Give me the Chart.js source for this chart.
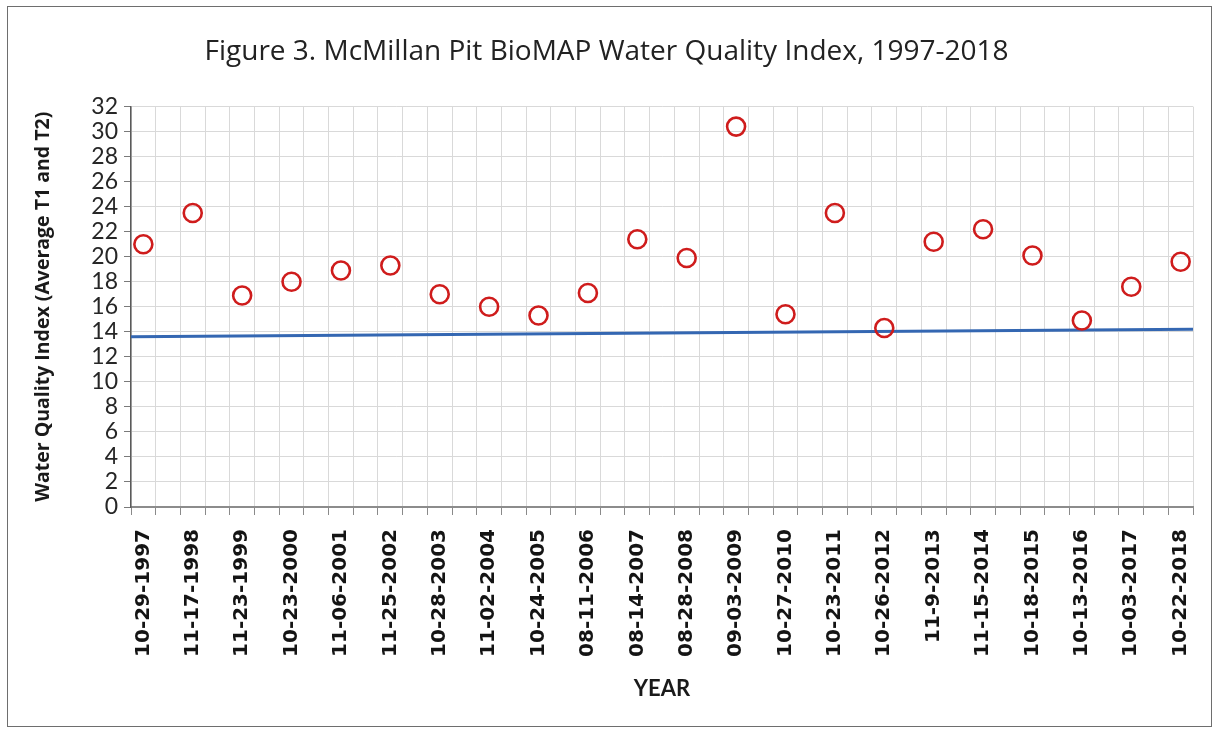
<!DOCTYPE html><html lang="en">
<head>
  <meta charset="UTF-8" />
  <title>McMillan Pit BioMAP Water Quality Index</title>
  <script src="https://cdn.jsdelivr.net/npm/chart.js"></script>
  <style>
    body { margin: 0; background: #fff; }
    #wrap { position: relative; width: 1217px; height: 730px; }
    #frame { position: absolute; left: 7px; top: 6px; width: 1203px; height: 719px; border: 1.5px solid #6e6e6e; pointer-events: none; }
  </style>
</head>
<body>
  <div id="wrap">
    <canvas id="wqiChart" width="1217" height="730"></canvas>
    <div id="frame"></div>
  </div>
  <script>
const categories = ["10-29-1997", "11-17-1998", "11-23-1999", "10-23-2000", "11-06-2001", "11-25-2002",
  "10-28-2003", "11-02-2004", "10-24-2005", "08-11-2006", "08-14-2007", "08-28-2008", "09-03-2009",
  "10-27-2010", "10-23-2011", "10-26-2012", "11-9-2013", "11-15-2014", "10-18-2015", "10-13-2016",
  "10-03-2017", "10-22-2018"];
const wqiValues = [21.0, 23.5, 16.9, 18.0, 18.9, 19.3, 17.0, 16.0, 15.3, 17.1, 21.4,
  19.9, 30.4, 15.4, 23.5, 14.3, 21.2, 22.2, 20.1, 14.9, 17.6, 19.6];
const lineEnds = [13.6, 14.2];   // blue reference line, left end / right end
const yTicks = [0, 32, 2];       // min, max, step

// each date sits between two grid columns: 2 columns per sample, 43 columns in all
const cols = categories.length * 2 - 1;
const points = wqiValues.map((v, i) => ({ x: i * 2 + 0.5, y: v }));
const refLine = [{ x: 0, y: lineEnds[0] }, { x: cols, y: lineEnds[1] }];

const isWhole = v => Math.abs(v - Math.round(v)) < 1e-6;

new Chart(document.getElementById("wqiChart"), {
  type: "scatter",
  data: {
    datasets: [
      {
        label: "WQI",
        data: points,
        pointRadius: 9,
        pointHoverRadius: 9,
        pointBorderWidth: 2.6,
        pointBorderColor: "#cf1c1c",
        pointBackgroundColor: "rgba(255,255,255,0)"
      },
      {
        type: "line",
        label: "Reference",
        data: refLine,
        borderColor: "#3467b2",
        borderWidth: 3,
        pointRadius: 0,
        fill: false
      }
    ]
  },
  options: {
    responsive: false,
    animation: false,
    layout: { padding: { left: 20, right: 24, top: 10, bottom: 10 } },
    plugins: {
      legend: { display: false },
      tooltip: { enabled: false },
      title: {
        display: true,
        text: "Figure 3. McMillan Pit BioMAP Water Quality Index, 1997-2018",
        color: "#222",
        font: { family: "Open Sans", size: 28, weight: "normal" },
        padding: { top: 25, bottom: 38 }
      }
    },
    scales: {
      x: {
        type: "linear",
        min: 0,
        max: cols,
        afterFit: s => { s.height = 213; s.paddingRight = 0; },
        ticks: {
          stepSize: 0.5,
          autoSkip: false,
          minRotation: 90,
          maxRotation: 90,
          padding: 14,
          color: "#141414",
          font: { family: "DejaVu Sans", size: 20, weight: "bold" },
          callback: v => {
            const i = (v - 0.5) / 2;
            return isWhole(i) && categories[Math.round(i)] ? categories[Math.round(i)] : "";
          }
        },
        grid: {
          color: c => isWhole(c.tick.value) ? "#d9d9d9" : "rgba(0,0,0,0)",
          tickColor: c => isWhole(c.tick.value) ? "#8a8a8a" : "rgba(0,0,0,0)",
          tickLength: 8
        },
        border: { color: "#8c8c8c", width: 2 },
        title: {
          display: true,
          text: "YEAR",
          color: "#1a1a1a",
          font: { family: "Lato", size: 22, weight: "bold" },
          padding: { top: 0, bottom: 18 }
        }
      },
      y: {
        min: yTicks[0],
        max: yTicks[1],
        afterFit: s => { s.width = 111; },
        ticks: {
          stepSize: yTicks[2],
          autoSkip: false,
          padding: 6,
          color: "#262626",
          font: { family: "Lato", size: 23, lineHeight: 1 }
        },
        grid: { color: "#d9d9d9", tickColor: "#7a7a7a", tickLength: 7 },
        border: { color: "#5a5a5a", width: 1.5 },
        title: {
          display: true,
          text: "Water Quality Index (Average T1 and T2)",
          color: "#1a1a1a",
          font: { family: "Open Sans", size: 19.5, weight: "bold" },
          padding: { top: 12, bottom: 0 }
        }
      }
    }
  }
});
  </script>
</body>
</html>
